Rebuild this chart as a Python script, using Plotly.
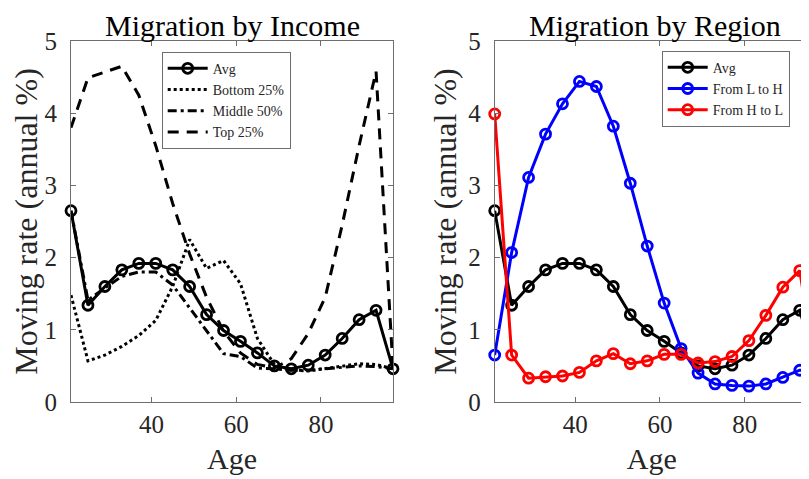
import plotly.graph_objects as go

# ages sampled every 4 years
age = [21, 25, 29, 33, 37, 41, 45, 49, 53, 57, 61, 65, 69, 73, 77, 81, 85, 89, 93, 97]

avg = [2.65, 1.34, 1.60, 1.83, 1.92, 1.92, 1.83, 1.60, 1.21, 0.99,
       0.84, 0.68, 0.50, 0.46, 0.51, 0.65, 0.88, 1.14, 1.27, 0.46]
bottom25 = [1.48, 0.57, 0.65, 0.77, 0.92, 1.13, 1.60, 2.25, 1.85, 1.96,
            1.64, 0.88, 0.52, 0.44, 0.43, 0.46, 0.50, 0.53, 0.52, 0.46]
middle50 = [2.65, 1.41, 1.58, 1.74, 1.80, 1.80, 1.62, 1.30, 0.98, 0.67,
            0.63, 0.47, 0.46, 0.44, 0.44, 0.46, 0.48, 0.50, 0.49, 0.46]
top25 = [3.80, 4.49, 4.57, 4.65, 4.25, 3.55, 2.75, 2.05, 1.45, 0.98,
         0.68, 0.52, 0.47, 0.60, 0.95, 1.45, 2.45, 3.55, 4.58, 0.46]

l_to_h = [0.65, 2.07, 3.11, 3.71, 4.13, 4.44, 4.37, 3.82, 3.03, 2.16,
          1.37, 0.74, 0.40, 0.25, 0.23, 0.22, 0.25, 0.34, 0.44, 0.45]
h_to_l = [3.99, 0.65, 0.33, 0.35, 0.36, 0.41, 0.57, 0.67, 0.53, 0.57,
          0.66, 0.66, 0.54, 0.56, 0.63, 0.85, 1.20, 1.59, 1.82, 0.35]

# the page body has an 8px margin, so the figure is 8px smaller than the window
W, H = 801, 471
OFF = 8
FONT = "Liberation Serif"
TXT = "#262626"
AX = "#6e6e6e"


def fx(px):
    return (px - OFF) / W


def fy(py):
    return 1 - (py - OFF) / H


fig = go.Figure()

marker = dict(symbol="circle-open", size=10, line=dict(width=2.8))

# left panel
fig.add_trace(go.Scatter(x=age, y=avg, mode="lines+markers", name="Avg",
                         line=dict(color="black", width=3), marker=marker,
                         cliponaxis=False, legend="legend"))
fig.add_trace(go.Scatter(x=age, y=bottom25, mode="lines", name="Bottom 25%",
                         line=dict(color="black", width=3, dash="3px,3px"),
                         legend="legend"))
fig.add_trace(go.Scatter(x=age, y=middle50, mode="lines", name="Middle 50%",
                         line=dict(color="black", width=3, dash="9px,4px,3px,4px"),
                         legend="legend"))
fig.add_trace(go.Scatter(x=age, y=top25, mode="lines", name="Top 25%",
                         line=dict(color="black", width=3, dash="11px,8px"),
                         legend="legend"))

# right panel
for name, vals, col in [("Avg", avg, "#000000"),
                        ("From L to H", l_to_h, "#0000ff"),
                        ("From H to L", h_to_l, "#ff0000")]:
    fig.add_trace(go.Scatter(x=age, y=vals, mode="lines+markers", name=name,
                             line=dict(color=col, width=3), marker=marker,
                             cliponaxis=False, xaxis="x2", yaxis="y2",
                             legend="legend2"))

px_per_year = 322 / 76.0
x2_left = 494.7

axis_common = dict(showline=True, linecolor=AX, linewidth=1, ticks="inside",
                   ticklen=5, tickcolor=AX, showgrid=False, zeroline=False,
                   automargin=False,
                   tickfont=dict(family=FONT, size=25, color=TXT))

ydom = [fy(402), fy(41)]
xtitle = dict(text="Age", font=dict(size=30, color=TXT), standoff=10)
ytitle = dict(text="Moving rate (annual %)", font=dict(size=32, color=TXT), standoff=2)

fig.update_layout(
    width=W, height=H,
    margin=dict(l=0, r=0, t=0, b=0, autoexpand=False),
    paper_bgcolor="white", plot_bgcolor="white",
    font=dict(family=FONT, color=TXT),
    xaxis=dict(domain=[fx(71), fx(393)], range=[21, 97], tickvals=[40, 60, 80],
               mirror="ticks", anchor="y", ticklabelstandoff=0,
               title=xtitle, **axis_common),
    yaxis=dict(domain=ydom, range=[0, 5], tickvals=[0, 1, 2, 3, 4, 5],
               mirror="ticks", anchor="x", ticklabelstandoff=8,
               title=ytitle, **axis_common),
    xaxis2=dict(domain=[fx(x2_left), 1.0],
                range=[21, 21 + (809 - x2_left) / px_per_year],
                tickvals=[40, 60, 80], mirror="ticks", anchor="y2",
                ticklabelstandoff=0, title=xtitle, **axis_common),
    yaxis2=dict(domain=ydom, range=[0, 5], tickvals=[0, 1, 2, 3, 4, 5],
                mirror=False, anchor="x2", ticklabelstandoff=8,
                title=ytitle, **axis_common),
    legend=dict(x=fx(161.7), y=fy(51.7), xanchor="left", yanchor="top",
                bgcolor="white", bordercolor=AX, borderwidth=1,
                font=dict(family=FONT, size=14, color=TXT), itemwidth=40,
                tracegroupgap=0),
    legend2=dict(x=fx(661.7), y=fy(50.7), xanchor="left", yanchor="top",
                 bgcolor="white", bordercolor=AX, borderwidth=1,
                 font=dict(family=FONT, size=14, color=TXT), itemwidth=40,
                 tracegroupgap=0),
    annotations=[
        dict(text="Migration by Income", x=fx(232), y=1.0, xref="paper",
             yref="paper", showarrow=False, xanchor="center", yanchor="top",
             borderpad=0, font=dict(family=FONT, size=30, color="black")),
        dict(text="Migration by Region", x=fx(655), y=1.0, xref="paper",
             yref="paper", showarrow=False, xanchor="center", yanchor="top",
             borderpad=0, font=dict(family=FONT, size=30, color="black")),
    ],
)

fig.write_html("out.html")
